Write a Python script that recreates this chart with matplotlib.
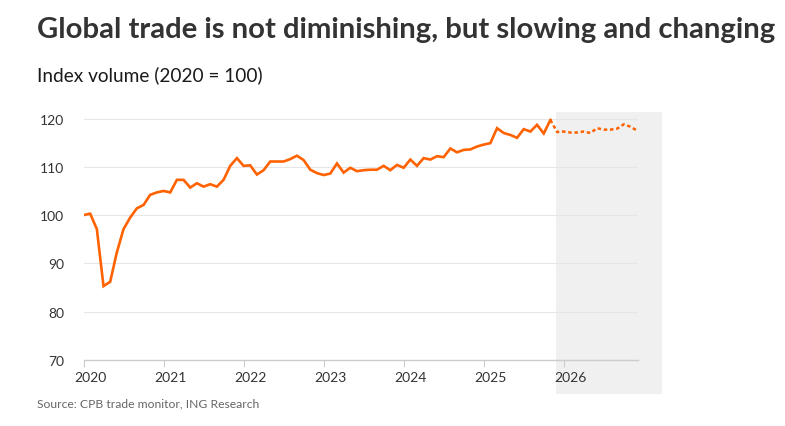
import matplotlib
matplotlib.use("Agg")
import matplotlib.pyplot as plt
from matplotlib.patches import Rectangle
from matplotlib.transforms import ScaledTranslation
import numpy as np

plt.rcParams['font.family'] = ['Lato', 'DejaVu Sans']

start_year = 2020
actual = [100.0, 100.3, 97.1, 85.3, 86.2, 92.3, 97.1, 99.5, 101.4, 102.1, 104.2, 104.7,
          105.0, 104.7, 107.3, 107.3, 105.7, 106.6, 105.9, 106.4, 105.9, 107.3, 110.2, 111.8,
          110.2, 110.3, 108.4, 109.3, 111.1, 111.1, 111.1, 111.6, 112.3, 111.4, 109.4, 108.7,
          108.3, 108.6, 110.7, 108.8, 109.8, 109.1, 109.3, 109.4, 109.4, 110.2, 109.3, 110.4,
          109.8, 111.5, 110.2, 111.8, 111.5, 112.2, 112.0, 113.8, 113.0, 113.5, 113.6, 114.2,
          114.6, 114.9, 118.0, 117.0, 116.6, 116.0, 117.8, 117.3, 118.7, 116.9, 119.7]
forecast = [119.7, 117.2, 117.3, 117.1, 117.1, 117.3, 117.0, 118.0, 117.7, 117.7, 117.9,
            118.8, 118.3, 117.5]
year_ticks = [2020, 2021, 2022, 2023, 2024, 2025, 2026]
y_ticks = [70, 80, 90, 100, 110, 120]

title = "Global trade is not diminishing, but slowing and changing"
subtitle = "Index volume (2020 = 100)"
source = "Source: CPB trade monitor, ING Research"

orange = "#FF6200"

fig = plt.figure(figsize=(7.85, 4.27), dpi=100)
ax = fig.add_axes([83.5/785, 1-361/427, (637.5-83.5)/785, (361-113)/427])

x_act = start_year + np.arange(len(actual)) / 12
x_fc = start_year + (len(actual) - 1 + np.arange(len(forecast))) / 12

ax.set_xlim(2020, 2020 + 83.06/12)
ax.set_ylim(70, 121.35)

# forecast shading
ax.add_patch(Rectangle((2020 + 70.8/12, 62.96), 15.9/12, 121.35 - 62.96,
                       facecolor="#f0f0f0", edgecolor="none", clip_on=False, zorder=0))

ax.plot(x_act, actual, color=orange, lw=1.9, solid_joinstyle='miter', zorder=3)
ax.plot(x_fc, forecast, color=orange, lw=1.8, ls=(0, (1.4, 1.1)), zorder=3)

ax.set_yticks(y_ticks)
ax.set_xticks(year_ticks)
ax.set_xticklabels([str(y) for y in year_ticks])
for v in y_ticks[1:]:
    ax.axhline(v, color="#e6e6e6", lw=0.8, zorder=1)

for s in ['top', 'right', 'left']:
    ax.spines[s].set_visible(False)
ax.spines['bottom'].set_color("#cccccc")
ax.spines['bottom'].set_linewidth(1.0)
ax.set_facecolor("none")
ax.tick_params(axis='y', length=0, pad=14, labelsize=10, labelcolor="#333333")
ax.tick_params(axis='x', length=5, width=0.8, color="#cccccc", pad=3,
               labelsize=10, labelcolor="#333333")
off = ScaledTranslation(7/100, 0, fig.dpi_scale_trans)
for lab in ax.get_xticklabels():
    lab.set_transform(lab.get_transform() + off)

fig.text(37/785, 1-30/427, title, fontsize=21.1, fontweight='bold', color="#333333",
         ha='left', va='center')
fig.text(37/785, 1-75/427, subtitle, fontsize=13.7, color="#1a1a1a", ha='left', va='center')
fig.text(37/785, 1-404/427, source, fontsize=8.7, color="#666666", ha='left', va='center')

fig.savefig("out.png", dpi=100)
